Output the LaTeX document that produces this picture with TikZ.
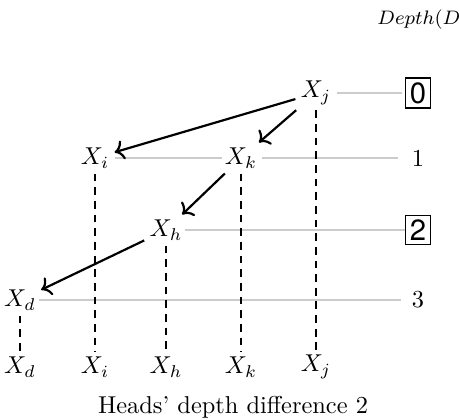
\documentclass[tikz,border=0pt]{standalone}
\usepackage{fontspec}
\usepackage{tikz}
\usetikzlibrary{arrows.meta, positioning}
\newfontfamily\boxfont{TeX Gyre Heros}
\tikzstyle{head}     = [inner sep=2pt]
\tikzstyle{level}    = [draw=gray!40, line width=1pt]
\tikzstyle{chain}    = [line width=1.1pt, dash pattern=on 3.2pt off 2.4pt]
\tikzstyle{arrow}    = [line width=0.9pt, -{To[length=3.8pt, width=8pt]}]
\tikzstyle{depthbox} = [draw, font=\boxfont\large, inner sep=1.8pt, line width=0.5pt]

\begin{document}
\begin{tikzpicture}[x=0.0144cm, y=-0.0144cm]
  \useasboundingbox (0,0) rectangle (459,419);

  % Depth column
  \node[anchor=west, font=\fontsize{7.8}{9}\selectfont, inner sep=0pt] (depth)
        at (377,20) {$Depth(D)$};
  \node[depthbox] (d0) at (418,93)  {0};
  \node           (d1) at (418,158) {1};
  \node[depthbox] (d2) at (418,230) {2};
  \node           (d3) at (418,300) {3};

  % Heads
  \node[head] (xj) at (316,93)  {$X_j$};
  \node[head] (xi) at (95,158)  {$X_i$};
  \node[head] (xk) at (241,158) {$X_k$};
  \node[head] (xh) at (166,230) {$X_h$};
  \node[head] (xd) at (20,300)  {$X_d$};

  % Words
  \node[head] (wd) at (20,367)  {$X_d$};
  \node[head] (wi) at (95,367)  {$X_i$};
  \node[head] (wh) at (166,367) {$X_h$};
  \node[head] (wk) at (241,367) {$X_k$};
  \node[head] (wj) at (316,367) {$X_j$};

  % Levels
  \draw[level, shorten <=0pt, shorten >=1pt] (xj) -- (d0);
  \draw[level, shorten <=0pt, shorten >=-1pt] (xi) -- (xk);
  \draw[level, shorten <=0pt, shorten >=2pt] (xk) -- (d1);
  \draw[level, shorten <=-1pt, shorten >=0pt] (xh) -- (d2);
  \draw[level, shorten <=-1pt, shorten >=1pt] (xd) -- (d3);

  % Projections
  \draw[chain] (xj.south) -- (wj.north);
  \draw[chain] (xi.south) -- (wi.north);
  \draw[chain] (xk.south) -- (wk.north);
  \draw[chain] (xh.south) -- (wh.north);
  \draw[chain] (xd.south) -- (wd.north);

  % Arcs
  \draw[arrow] (xj) -- (xi);
  \draw[arrow] (xj) -- (xk);
  \draw[arrow] (xk) -- (xh);
  \draw[arrow] (xh) -- (xd);

  % Caption
  \node (title) at (233,407) {Heads' depth difference 2};

\end{tikzpicture}
\end{document}
